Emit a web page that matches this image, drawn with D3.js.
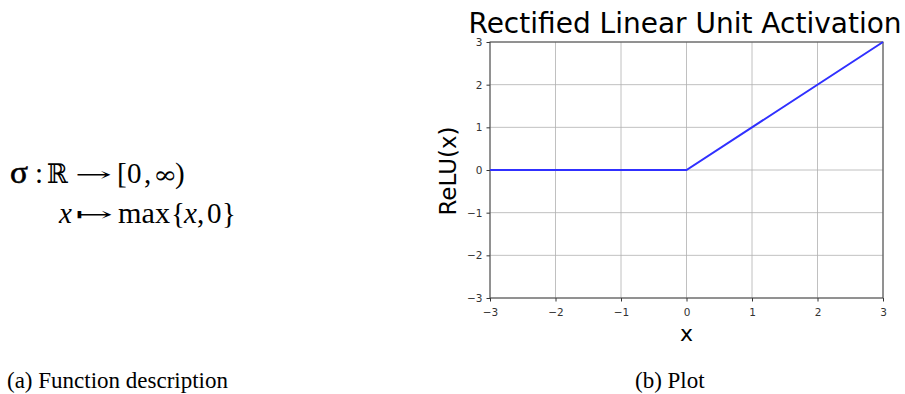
<!DOCTYPE html>
<html>
<head>
<meta charset="utf-8">
<script src="https://cdn.jsdelivr.net/npm/d3@7/dist/d3.min.js"></script>
<style>
  html, body { margin: 0; padding: 0; background: #fff; }
  svg { display: block; }
</style>
</head>
<body>
<svg id="fig" width="905" height="394"></svg>
<script>
// ReLU sample points: breakpoints of the piecewise-linear function
const xValues = [-3, 0, 3];
const yValues = [0, 0, 3];
const xTicks = [-3, -2, -1, 0, 1, 2, 3];
const yTicks = [-3, -2, -1, 0, 1, 2, 3];
const titleText = "Rectified Linear Unit Activation";
const xLabel = "x";
const yLabel = "ReLU(x)";
const captions = ["(a) Function description", "(b) Plot"];

const svg = d3.select("#fig");
const serif = "'Liberation Serif', 'Times New Roman', serif";
const sans = "'DejaVu Sans', sans-serif";

// ---- left panel: function definition, set glyph by glyph ----
const defn = svg.append("g").attr("font-family", serif).attr("font-size", 29).attr("fill", "#000");
function token(txt, x0, y0, opts = {}) {
  const t = defn.append("text").attr("x", x0).attr("y", y0).text(txt);
  if (opts.italic) t.attr("font-style", "italic");
  if (opts.width) t.attr("textLength", opts.width).attr("lengthAdjust", "spacingAndGlyphs");
  if (opts.family) t.attr("font-family", opts.family);
  if (opts.size) t.attr("font-size", opts.size);
  return t;
}
// line 1:  σ : ℝ → [0, ∞)
token("σ", 10, 183, { width: 18, size: 31 }).attr("stroke", "#000").attr("stroke-width", 0.6);
token(":", 35, 183);
token("ℝ", 47, 183, { width: 21, family: "'DejaVu Serif', serif", size: 27 });
token("→", 75, 181, { width: 37, size: 19, family: "'DejaVu Serif', serif" });
token("[", 117, 183);
token("0", 127, 183);
token(",", 144, 183);
token("∞", 153, 183, { width: 24, size: 24, family: "'DejaVu Serif', serif" });
token(")", 175, 183);
// line 2:  x ↦ max{x, 0}
token("x", 59, 223, { italic: true });
token("↦", 75, 221, { width: 38, size: 19, family: "'DejaVu Serif', serif" });
token("max", 118, 223, { width: 52 });
token("{", 171, 223);
token("x", 184, 223, { italic: true });
token(",", 197, 223);
token("0", 207, 223);
token("}", 222, 223);

// ---- captions ----
svg.append("text").attr("x", 7).attr("y", 388)
  .attr("font-family", serif).attr("font-size", 23)
  .text(captions[0]);
svg.append("text").attr("x", 635).attr("y", 388)
  .attr("font-family", serif).attr("font-size", 23)
  .text(captions[1]);

// ---- right panel: plot ----
const plot = { left: 490, right: 883, top: 42, bottom: 298 };
const x = d3.scaleLinear().domain([-3, 3]).range([plot.left, plot.right]);
const y = d3.scaleLinear().domain([-3, 3]).range([plot.bottom, plot.top]);

const g = svg.append("g");

// grid
g.append("g").selectAll("line").data(xTicks).join("line")
  .attr("x1", d => x(d)).attr("x2", d => x(d))
  .attr("y1", plot.top).attr("y2", plot.bottom)
  .attr("stroke", "#b0b0b0").attr("stroke-width", 0.8);
g.append("g").selectAll("line").data(yTicks).join("line")
  .attr("y1", d => y(d)).attr("y2", d => y(d))
  .attr("x1", plot.left).attr("x2", plot.right)
  .attr("stroke", "#b0b0b0").attr("stroke-width", 0.8);

// axes
const fmt = d => d < 0 ? "\u2212" + Math.abs(d) : String(d);
const xAxis = g.append("g").attr("transform", `translate(0,${plot.bottom})`)
  .call(d3.axisBottom(x).tickValues(xTicks).tickFormat(fmt).tickSize(3.5).tickPadding(7));
const yAxis = g.append("g").attr("transform", `translate(${plot.left},0)`)
  .call(d3.axisLeft(y).tickValues(yTicks).tickFormat(fmt).tickSize(3.5).tickPadding(4));
[xAxis, yAxis].forEach(a => {
  a.select(".domain").remove();
  a.selectAll("line").attr("stroke", "#333");
  a.selectAll("text").attr("font-family", sans).attr("font-size", 10.5).attr("fill", "#333");
});

// frame
g.append("rect").attr("x", plot.left).attr("y", plot.top)
  .attr("width", plot.right - plot.left).attr("height", plot.bottom - plot.top)
  .attr("fill", "none").attr("stroke", "#444").attr("stroke-width", 1);

// ReLU line
const pts = xValues.map((v, i) => [v, yValues[i]]);
g.append("path").datum(pts)
  .attr("d", d3.line().x(d => x(d[0])).y(d => y(d[1])))
  .attr("fill", "none").attr("stroke", "#3030ff").attr("stroke-width", 2);

// labels
svg.append("text").attr("x", 685).attr("y", 33)
  .attr("text-anchor", "middle").attr("font-family", sans).attr("font-size", 28)
  .text(titleText);
svg.append("text").attr("x", x(0)).attr("y", 341)
  .attr("text-anchor", "middle").attr("font-family", sans).attr("font-size", 22)
  .text(xLabel);
svg.append("text")
  .attr("transform", `translate(456,171) rotate(-90)`)
  .attr("text-anchor", "middle").attr("font-family", sans).attr("font-size", 23)
  .text(yLabel);
</script>
</body>
</html>
